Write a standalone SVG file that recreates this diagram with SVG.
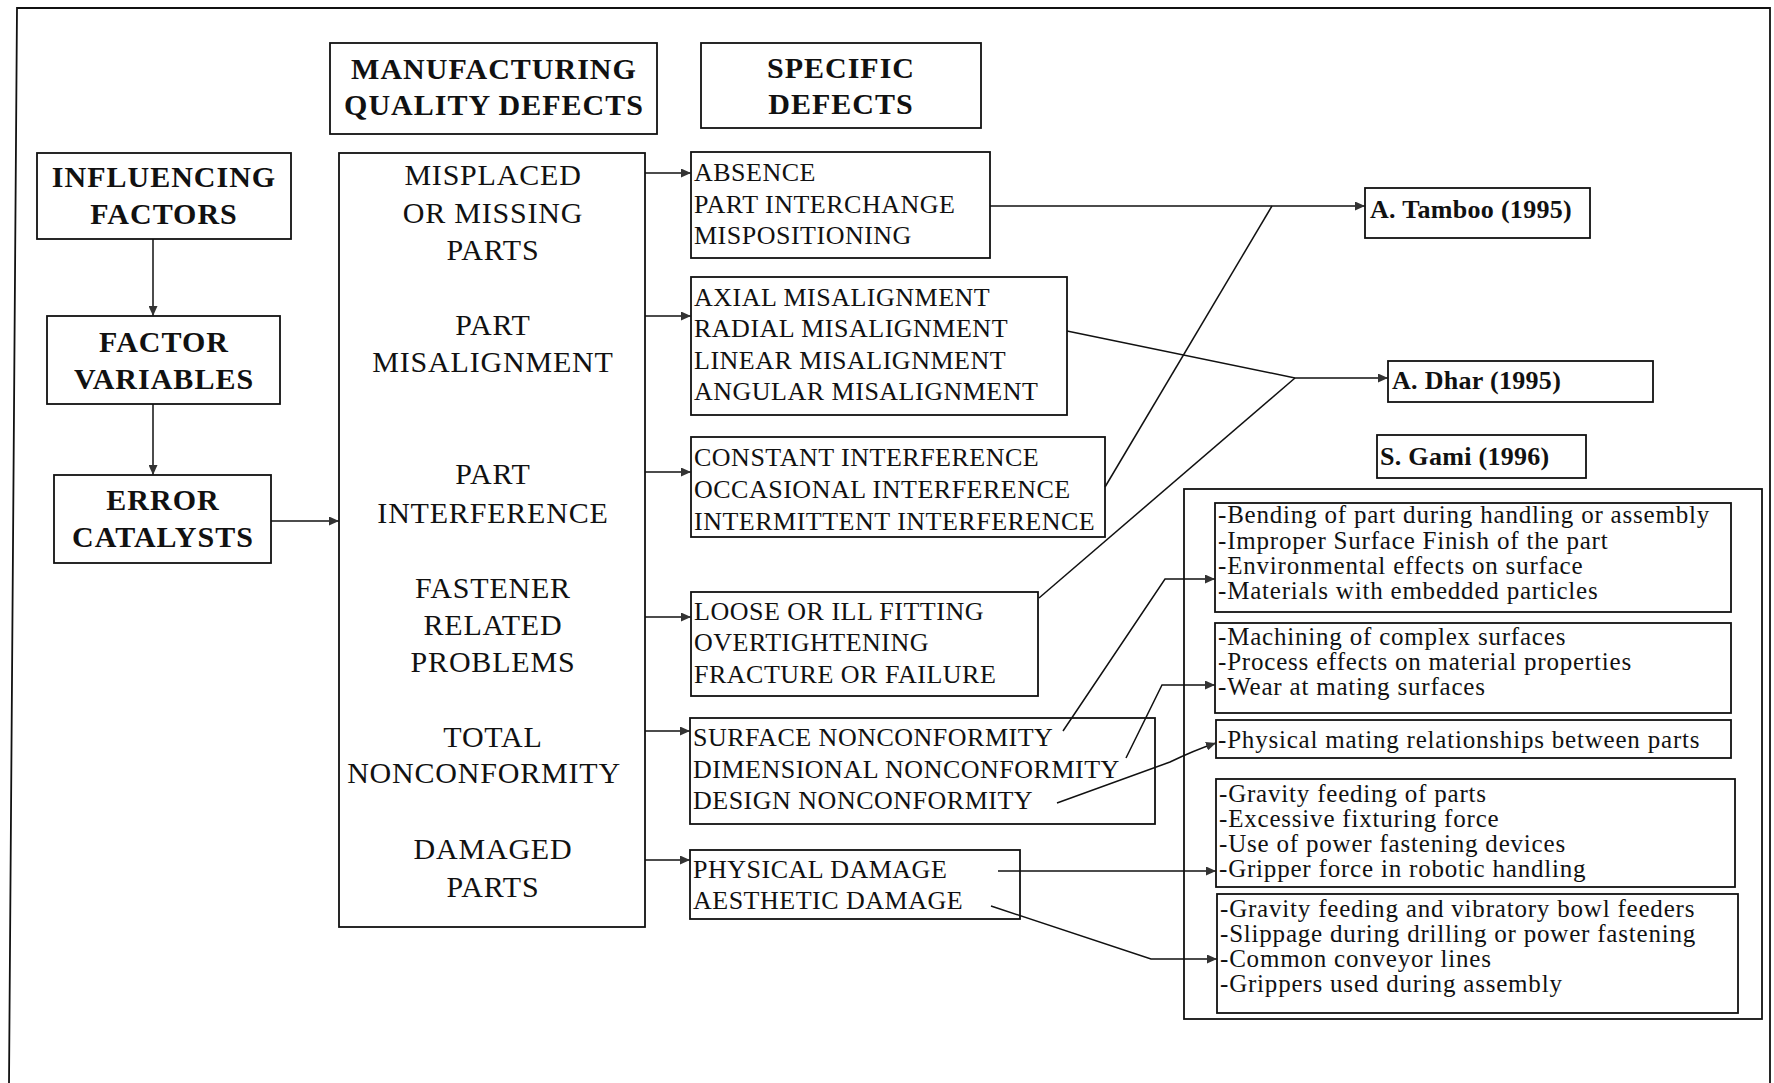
<svg xmlns="http://www.w3.org/2000/svg" width="1774" height="1083" viewBox="0 0 1774 1083">
<style>
.bx{fill:none;stroke:#111;stroke-width:1.8}
.hd{font-family:"Liberation Serif","Times New Roman",serif;font-weight:bold;font-size:30px;letter-spacing:1px;fill:#111;text-anchor:middle}
.mq{font-family:"Liberation Serif","Times New Roman",serif;font-size:30px;letter-spacing:0.8px;fill:#111;text-anchor:middle}
.sp{font-family:"Liberation Serif","Times New Roman",serif;font-size:26px;letter-spacing:0.5px;fill:#111}
.au{font-family:"Liberation Serif","Times New Roman",serif;font-weight:bold;font-size:26px;letter-spacing:0.3px;fill:#111}
.gm{font-family:"Liberation Serif","Times New Roman",serif;font-size:25px;letter-spacing:0.8px;fill:#111}
.cn{fill:none;stroke:#111;stroke-width:1.5}
</style>
<defs>
<marker id="ah" markerUnits="userSpaceOnUse" markerWidth="11" markerHeight="9" refX="10" refY="4.5" orient="auto">
<path d="M0,0 L10,4.5 L0,9 z" fill="#333"/>
</marker>
</defs>
<rect width="1774" height="1083" fill="#fff"/>
<g id="frame">
<path class="bx" d="M9,1083 L17,8 L1770,8 L1770,1083"/>
</g>
<g id="mfg-header">
<rect class="bx" x="330" y="43" width="327" height="91"/>
<text class="hd" x="494" y="79">MANUFACTURING</text>
<text class="hd" x="494" y="115">QUALITY DEFECTS</text>
</g>
<g id="specific-header">
<rect class="bx" x="701" y="43" width="280" height="85"/>
<text class="hd" x="841" y="78">SPECIFIC</text>
<text class="hd" x="841" y="114">DEFECTS</text>
</g>
<g id="influencing">
<rect class="bx" x="37" y="153" width="254" height="86"/>
<text class="hd" x="164" y="187">INFLUENCING</text>
<text class="hd" x="164" y="224">FACTORS</text>
</g>
<g id="factor-variables">
<rect class="bx" x="47" y="316" width="233" height="88"/>
<text class="hd" x="164" y="352">FACTOR</text>
<text class="hd" x="164" y="389">VARIABLES</text>
</g>
<g id="error-catalysts">
<rect class="bx" x="54" y="475" width="217" height="88"/>
<text class="hd" x="163" y="510">ERROR</text>
<text class="hd" x="163" y="547">CATALYSTS</text>
</g>
<g id="mfg-defects">
<rect class="bx" x="339" y="153" width="306" height="774"/>
<text class="mq" x="493" y="185">MISPLACED</text>
<text class="mq" x="493" y="223">OR MISSING</text>
<text class="mq" x="493" y="260">PARTS</text>
<text class="mq" x="493" y="335">PART</text>
<text class="mq" x="493" y="372">MISALIGNMENT</text>
<text class="mq" x="493" y="484">PART</text>
<text class="mq" x="493" y="523">INTERFERENCE</text>
<text class="mq" x="493" y="598">FASTENER</text>
<text class="mq" x="493" y="635">RELATED</text>
<text class="mq" x="493" y="672">PROBLEMS</text>
<text class="mq" x="493" y="747">TOTAL</text>
<text class="mq" x="484" y="783">NONCONFORMITY</text>
<text class="mq" x="493" y="859">DAMAGED</text>
<text class="mq" x="493" y="897">PARTS</text>
</g>
<g id="missing-defects">
<rect class="bx" x="691" y="152" width="299" height="106"/>
<text class="sp" x="694" y="181">ABSENCE</text>
<text class="sp" x="694" y="213">PART INTERCHANGE</text>
<text class="sp" x="694" y="244">MISPOSITIONING</text>
</g>
<g id="misalignment-defects">
<rect class="bx" x="691" y="277" width="376" height="138"/>
<text class="sp" x="694" y="306">AXIAL MISALIGNMENT</text>
<text class="sp" x="694" y="337">RADIAL MISALIGNMENT</text>
<text class="sp" x="694" y="369">LINEAR MISALIGNMENT</text>
<text class="sp" x="694" y="400">ANGULAR MISALIGNMENT</text>
</g>
<g id="interference-defects">
<rect class="bx" x="691" y="437" width="414" height="100"/>
<text class="sp" x="694" y="466">CONSTANT INTERFERENCE</text>
<text class="sp" x="694" y="498">OCCASIONAL INTERFERENCE</text>
<text class="sp" x="694" y="530">INTERMITTENT INTERFERENCE</text>
</g>
<g id="fastener-defects">
<rect class="bx" x="691" y="592" width="347" height="104"/>
<text class="sp" x="694" y="620">LOOSE OR ILL FITTING</text>
<text class="sp" x="694" y="651">OVERTIGHTENING</text>
<text class="sp" x="694" y="683">FRACTURE OR FAILURE</text>
</g>
<g id="nonconformity-defects">
<rect class="bx" x="690" y="718" width="465" height="106"/>
<text class="sp" x="693" y="746">SURFACE NONCONFORMITY</text>
<text class="sp" x="693" y="778">DIMENSIONAL NONCONFORMITY</text>
<text class="sp" x="693" y="809">DESIGN NONCONFORMITY</text>
</g>
<g id="damage-defects">
<rect class="bx" x="690" y="850" width="330" height="69"/>
<text class="sp" x="693" y="878">PHYSICAL DAMAGE</text>
<text class="sp" x="693" y="909">AESTHETIC DAMAGE</text>
</g>
<g id="tamboo">
<rect class="bx" x="1365" y="188" width="225" height="50"/>
<text class="au" x="1370" y="218">A. Tamboo (1995)</text>
</g>
<g id="dhar">
<rect class="bx" x="1388" y="361" width="265" height="41"/>
<text class="au" x="1392" y="389">A. Dhar (1995)</text>
</g>
<g id="gami">
<rect class="bx" x="1377" y="435" width="209" height="43"/>
<text class="au" x="1380" y="465">S. Gami (1996)</text>
</g>
<g id="gami-causes">
<rect class="bx" x="1184" y="489" width="578" height="530"/>
</g>
<g id="gami-surface">
<rect class="bx" x="1215" y="503" width="516" height="109"/>
<text class="gm" x="1218" y="523">-Bending of part during handling or assembly</text>
<text class="gm" x="1218" y="549">-Improper Surface Finish of the part</text>
<text class="gm" x="1218" y="574">-Environmental effects on surface</text>
<text class="gm" x="1218" y="599">-Materials with embedded particles</text>
</g>
<g id="gami-dimensional">
<rect class="bx" x="1215" y="623" width="516" height="90"/>
<text class="gm" x="1218" y="645">-Machining of complex surfaces</text>
<text class="gm" x="1218" y="670">-Process effects on material properties</text>
<text class="gm" x="1218" y="695">-Wear at mating surfaces</text>
</g>
<g id="gami-design">
<rect class="bx" x="1216" y="720" width="515" height="38"/>
<text class="gm" x="1218" y="748">-Physical mating relationships between parts</text>
</g>
<g id="gami-physical">
<rect class="bx" x="1216" y="779" width="519" height="108"/>
<text class="gm" x="1219" y="802">-Gravity feeding of parts</text>
<text class="gm" x="1219" y="827">-Excessive fixturing force</text>
<text class="gm" x="1219" y="852">-Use of power fastening devices</text>
<text class="gm" x="1219" y="877">-Gripper force in robotic handling</text>
</g>
<g id="gami-aesthetic">
<rect class="bx" x="1217" y="894" width="521" height="119"/>
<text class="gm" x="1220" y="917">-Gravity feeding and vibratory bowl feeders</text>
<text class="gm" x="1220" y="942">-Slippage during drilling or power fastening</text>
<text class="gm" x="1220" y="967">-Common conveyor lines</text>
<text class="gm" x="1220" y="992">-Grippers used during assembly</text>
</g>
<g id="connectors">
<path class="cn" d="M153,239 L153,316" marker-end="url(#ah)"/>
<path class="cn" d="M153,404 L153,475" marker-end="url(#ah)"/>
<path class="cn" d="M271,521 L339,521" marker-end="url(#ah)"/>
<path class="cn" d="M645,173 L691,173" marker-end="url(#ah)"/>
<path class="cn" d="M645,316 L691,316" marker-end="url(#ah)"/>
<path class="cn" d="M645,472 L691,472" marker-end="url(#ah)"/>
<path class="cn" d="M645,617 L691,617" marker-end="url(#ah)"/>
<path class="cn" d="M645,731 L690,731" marker-end="url(#ah)"/>
<path class="cn" d="M645,860 L690,860" marker-end="url(#ah)"/>
<path class="cn" d="M990,206 L1365,206" marker-end="url(#ah)"/>
<path class="cn" d="M1105,487 L1272,206"/>
<path class="cn" d="M1067,331 L1295,378 L1388,378" marker-end="url(#ah)"/>
<path class="cn" d="M1039,598 L1295,378"/>
<path class="cn" d="M1063,731 L1165,579 L1215,579" marker-end="url(#ah)"/>
<path class="cn" d="M1126,758 L1162,685 L1215,685" marker-end="url(#ah)"/>
<path class="cn" d="M1057,803 L1170,762 Q1195,750 1216,743" marker-end="url(#ah)"/>
<path class="cn" d="M998,871 L1216,871" marker-end="url(#ah)"/>
<path class="cn" d="M991,906 L1151,959 L1217,959" marker-end="url(#ah)"/>
</g>
</svg>
